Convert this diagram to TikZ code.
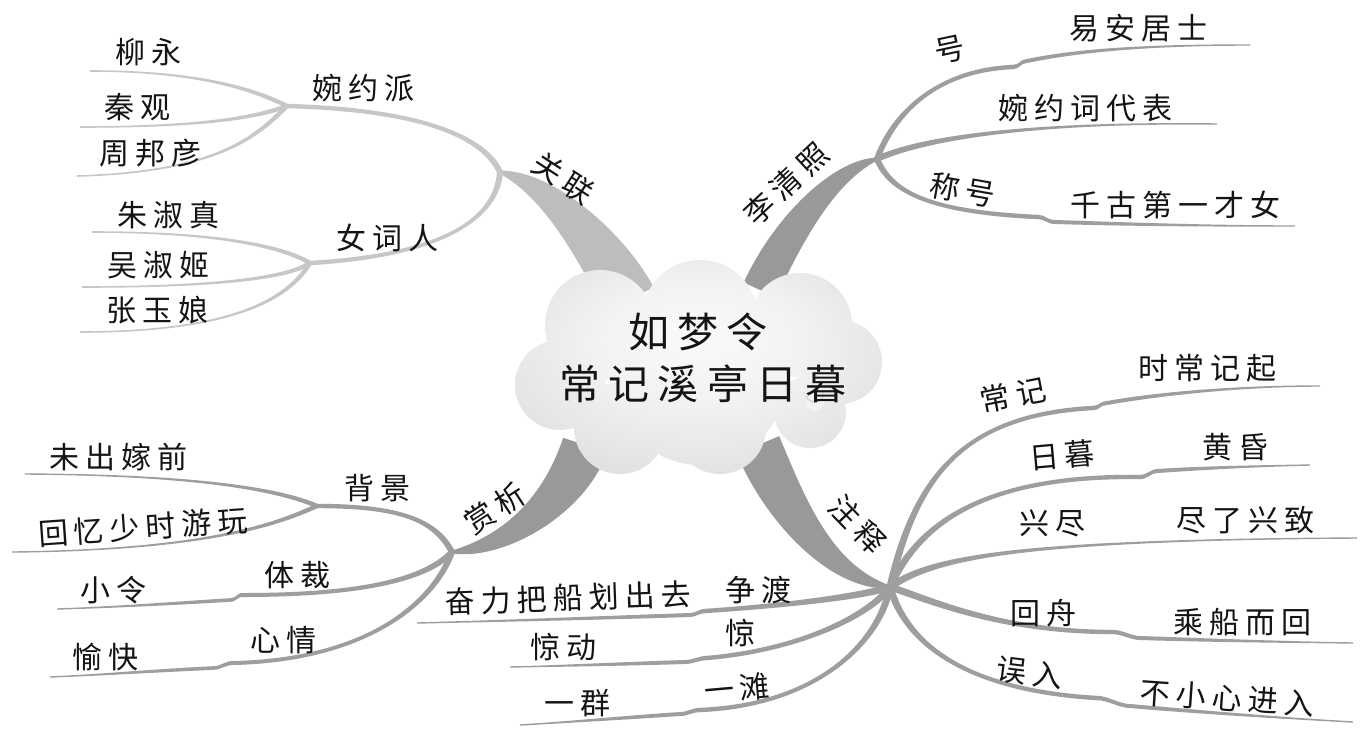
\documentclass[tikz,border=0pt]{standalone}
\usepackage{fontspec}
\newfontfamily\cjk[LetterSpace=20]{Noto Sans CJK SC}
\usetikzlibrary{calc}
\definecolor{lightline}{gray}{0.78}
\definecolor{lightbr}{gray}{0.74}
\definecolor{darkline}{gray}{0.62}
\definecolor{mainbr}{gray}{0.60}
\definecolor{txt}{gray}{0.08}
\pgfdeclareradialshading{cloudsh}{\pgfpoint{0bp}{8bp}}{color(0bp)=(gray!4); color(14bp)=(gray!10); color(26bp)=(gray!20); color(38bp)=(gray!32); color(50bp)=(gray!42)}
% tapered curve segment: P0, C1, C2, P3, half width at start, half width at end, colour
\newcommand\tseg[7]{\fill[#7] ($#1!#5!90:#2$) .. controls ($#2!#5!-90:#1$) and ($#3!#6!90:#4$) .. ($#4!#6!-90:#3$) -- ($#4!#6!90:#3$) .. controls ($#3!#6!-90:#4$) and ($#2!#5!90:#1$) .. ($#1!#5!-90:#2$) -- cycle;}
% broad tapered branch: P0, C1, C2, P3, half width at P0/C1, at C2, at P3, colour
\newcommand\tbr[8]{\fill[#8] ($#1!#5!90:#2$) .. controls ($#2!#5!-90:#1$) and ($#3!#6!90:#4$) .. ($#4!#7!-90:#3$) -- ($#4!#7!90:#3$) .. controls ($#3!#6!-90:#4$) and ($#2!#5!90:#1$) .. ($#1!#5!-90:#2$) -- cycle;}
\begin{document}
\begin{tikzpicture}[x=1pt,y=-1pt,
  lbl/.style={font=\cjk\fontsize{30}{36}\selectfont, text=txt, inner sep=0pt},
  title/.style={font=\cjk\fontsize{41}{48}\selectfont, text=txt, inner sep=0pt}]
\useasboundingbox[fill=white] (0,0) rectangle (1362,729);

% hubs and ends
\coordinate (H1) at (500,172);
\coordinate (S1) at (287,106);
\coordinate (S2) at (310,263);
\coordinate (H2) at (877,159);
\coordinate (H3) at (452,552);
\coordinate (S3) at (317,506);
\coordinate (H4) at (890,587);
\coordinate (cA) at (630,300);
\coordinate (cB) at (760,290);
\coordinate (cC) at (585,445);
\coordinate (cD) at (758,445);
\coordinate (eLiu) at (90,71);
\coordinate (eQin) at (80,127);
\coordinate (eZhou) at (77,176);
\coordinate (eZhu) at (92,232);
\coordinate (eWu) at (82,287);
\coordinate (eZhang) at (80,332);
\coordinate (eHao) at (1250,45);
\coordinate (eWanyue) at (1217,124);
\coordinate (eChenghao) at (1295,226);
\coordinate (eWei) at (25,474);
\coordinate (eHui) at (12,552);
\coordinate (eXiaoling) at (57,609);
\coordinate (eYukuai) at (50,677);
\coordinate (eChangji) at (1320,386);
\coordinate (eRimu) at (1310,465);
\coordinate (eXingjin) at (1357,538);
\coordinate (eHuizhou) at (1353,643);
\coordinate (eWuru) at (1353,722);
\coordinate (eZhengdu) at (417,623);
\coordinate (eJing) at (510,667);
\coordinate (eYitan) at (520,725);

% ---- 关联 ----
\tbr{(cA)}{(600,245)}{(550,185)}{(H1)}{27pt}{15pt}{1.5pt}{lightbr}
\tseg{(H1)}{(485,140)}{(430,110)}{(S1)}{3pt}{2.2pt}{lightline}
\tseg{(S1)}{(255,90)}{(200,71)}{(eLiu)}{2.2pt}{0.8pt}{lightline}
\tseg{(S1)}{(255,118)}{(200,127)}{(eQin)}{2.2pt}{0.8pt}{lightline}
\tseg{(S1)}{(258,135)}{(220,172)}{(eZhou)}{2.2pt}{0.8pt}{lightline}
\tseg{(H1)}{(497,215)}{(450,255)}{(S2)}{3pt}{2.2pt}{lightline}
\tseg{(S2)}{(280,245)}{(210,232)}{(eZhu)}{2.2pt}{0.8pt}{lightline}
\tseg{(S2)}{(285,280)}{(200,287)}{(eWu)}{2.2pt}{0.8pt}{lightline}
\tseg{(S2)}{(288,300)}{(230,332)}{(eZhang)}{2.2pt}{0.8pt}{lightline}

% ---- 李清照 ----
\tbr{(cB)}{(790,225)}{(835,170)}{(H2)}{18pt}{11pt}{1.5pt}{mainbr}
\tseg{(H2)}{(895,110)}{(940,70)}{(1013,67)}{3pt}{2.2pt}{darkline}
\tseg{(1013,67)}{(1020,67)}{(1020,61)}{(1027,61)}{2.2pt}{2pt}{darkline}
\tseg{(1027,61)}{(1080,50)}{(1150,45)}{(eHao)}{2pt}{0.7pt}{darkline}
\tseg{(H2)}{(930,135)}{(1050,122)}{(eWanyue)}{3pt}{0.7pt}{darkline}
\tseg{(H2)}{(890,190)}{(925,212)}{(1038,217)}{3pt}{2.2pt}{darkline}
\tseg{(1038,217)}{(1045,217)}{(1047,222)}{(1055,222)}{2.2pt}{2pt}{darkline}
\tseg{(1055,222)}{(1120,224)}{(1200,226)}{(eChenghao)}{2pt}{0.7pt}{darkline}

% ---- 赏析 ----
\tbr{(cC)}{(565,505)}{(505,548)}{(H3)}{23pt}{13pt}{1.5pt}{mainbr}
\tseg{(H3)}{(435,520)}{(400,506)}{(S3)}{3pt}{2.2pt}{darkline}
\tseg{(S3)}{(280,490)}{(200,475)}{(eWei)}{2.2pt}{0.7pt}{darkline}
\tseg{(S3)}{(285,520)}{(220,550)}{(eHui)}{2.2pt}{0.7pt}{darkline}
\tseg{(H3)}{(425,580)}{(360,595)}{(243,595)}{3pt}{2pt}{darkline}
\tseg{(243,595)}{(236,595)}{(237,600)}{(230,600)}{2pt}{1.8pt}{darkline}
\tseg{(230,600)}{(180,603)}{(120,607)}{(eXiaoling)}{1.8pt}{0.7pt}{darkline}
\tseg{(H3)}{(435,600)}{(370,660)}{(233,663)}{3pt}{2pt}{darkline}
\tseg{(233,663)}{(225,663)}{(221,668)}{(213,668)}{2pt}{1.8pt}{darkline}
\tseg{(213,668)}{(150,671)}{(100,675)}{(eYukuai)}{1.8pt}{0.7pt}{darkline}

% ---- 注释 ----
\tbr{(cD)}{(785,510)}{(830,578)}{(H4)}{23pt}{13pt}{1.5pt}{mainbr}
\tseg{(H4)}{(915,480)}{(960,415)}{(1093,408)}{3.5pt}{2.2pt}{darkline}
\tseg{(1093,408)}{(1100,408)}{(1100,403)}{(1107,403)}{2.2pt}{2pt}{darkline}
\tseg{(1107,403)}{(1170,392)}{(1250,386)}{(eChangji)}{2pt}{0.7pt}{darkline}
\tseg{(H4)}{(920,520)}{(990,475)}{(1140,477)}{3.5pt}{2.2pt}{darkline}
\tseg{(1140,477)}{(1148,477)}{(1150,471)}{(1158,471)}{2.2pt}{2pt}{darkline}
\tseg{(1158,471)}{(1200,468)}{(1260,466)}{(eRimu)}{2pt}{0.7pt}{darkline}
\tseg{(H4)}{(930,560)}{(1000,540)}{(eXingjin)}{3.5pt}{0.7pt}{darkline}
\tseg{(H4)}{(930,600)}{(1000,632)}{(1113,632)}{3.5pt}{2.2pt}{darkline}
\tseg{(1113,632)}{(1122,632)}{(1131,638)}{(1140,638)}{2.2pt}{2pt}{darkline}
\tseg{(1140,638)}{(1200,640)}{(1280,642)}{(eHuizhou)}{2pt}{0.7pt}{darkline}
\tseg{(H4)}{(905,640)}{(960,690)}{(1097,698)}{3.5pt}{2.2pt}{darkline}
\tseg{(1097,698)}{(1108,698)}{(1119,706)}{(1130,706)}{2.2pt}{2pt}{darkline}
\tseg{(1130,706)}{(1200,712)}{(1280,718)}{(eWuru)}{2pt}{0.7pt}{darkline}
\tseg{(H4)}{(860,597)}{(780,606)}{(705,611)}{3.5pt}{2.2pt}{darkline}
\tseg{(705,611)}{(699,611)}{(696,615)}{(690,615)}{2.2pt}{2pt}{darkline}
\tseg{(690,615)}{(600,618)}{(500,621)}{(eZhengdu)}{2pt}{0.7pt}{darkline}
\tseg{(H4)}{(870,615)}{(800,650)}{(707,658)}{3.5pt}{2.2pt}{darkline}
\tseg{(707,658)}{(699,658)}{(693,662)}{(685,662)}{2.2pt}{2pt}{darkline}
\tseg{(685,662)}{(620,664)}{(560,666)}{(eJing)}{2pt}{0.7pt}{darkline}
\tseg{(H4)}{(880,640)}{(820,705)}{(700,710)}{3.5pt}{2.2pt}{darkline}
\tseg{(700,710)}{(692,710)}{(688,714)}{(680,714)}{2.2pt}{2pt}{darkline}
\tseg{(680,714)}{(620,718)}{(570,722)}{(eYitan)}{2pt}{0.7pt}{darkline}

% ---- cloud ----
\shade[shading=cloudsh]
  (600,325) circle[radius=55pt]
  (700,318) circle[radius=58pt]
  (800,325) circle[radius=52pt]
  (840,362) circle[radius=42pt]
  (560,385) circle[radius=45pt]
  (620,428) circle[radius=46pt]
  (720,428) circle[radius=46pt]
  (810,412) circle[radius=36pt]
  (700,380) circle[radius=85pt];
\fill[gray!8, opacity=0.8] (815,402) circle[radius=9pt];
\draw[gray!28, line width=2pt] (806,396) arc[start angle=200, end angle=380, radius=9pt];

% ---- text ----
\node[title] (t1) at (698,332) {如梦令};
\node[title] (t2) at (703,384) {常记溪亭日暮};

\node[lbl] (n1) at (148,52) {柳永};
\node[lbl] (n2) at (137,107) {秦观};
\node[lbl] (n3) at (150,153) {周邦彦};
\node[lbl] (n4) at (363,88) {婉约派};
\node[lbl] (n5) at (168,215) {朱淑真};
\node[lbl] (n6) at (158,265) {吴淑姬};
\node[lbl] (n7) at (157,310) {张玉娘};
\node[lbl] (n8) at (387,238) {女词人};
\node[lbl, rotate=-33] (n9) at (563,178) {关联};

\node[lbl, rotate=43] (n10) at (786,184) {李清照};
\node[lbl, rotate=12] (n11) at (950,50) {号};
\node[lbl] (n12) at (1138,28) {易安居士};
\node[lbl] (n13) at (1085,108) {婉约词代表};
\node[lbl, rotate=-10] (n14) at (963,190) {称号};
\node[lbl] (n15) at (1175,205) {千古第一才女};

\node[lbl, rotate=33] (n16) at (495,508) {赏析};
\node[lbl] (n17) at (377,488) {背景};
\node[lbl] (n18) at (118,457) {未出嫁前};
\node[lbl, rotate=4] (n19) at (143,527) {回忆少时游玩};
\node[lbl] (n20) at (297,575) {体裁};
\node[lbl] (n21) at (113,590) {小令};
\node[lbl] (n22) at (283,640) {心情};
\node[lbl] (n23) at (105,657) {愉快};

\node[lbl, rotate=-46] (n24) at (858,524) {注释};
\node[lbl, rotate=2] (n25) at (568,598) {奋力把船划出去};
\node[lbl] (n26) at (758,590) {争渡};
\node[lbl] (n27) at (563,647) {惊动};
\node[lbl] (n28) at (740,633) {惊};
\node[lbl] (n29) at (577,703) {一群};
\node[lbl, rotate=5] (n30) at (737,688) {一滩};
\node[lbl, rotate=11] (n31) at (1013,395) {常记};
\node[lbl] (n32) at (1207,368) {时常记起};
\node[lbl, rotate=5] (n33) at (1062,455) {日暮};
\node[lbl] (n34) at (1235,447) {黄昏};
\node[lbl] (n35) at (1052,523) {兴尽};
\node[lbl] (n36) at (1245,520) {尽了兴致};
\node[lbl] (n37) at (1043,613) {回舟};
\node[lbl] (n38) at (1242,622) {乘船而回};
\node[lbl, rotate=-7] (n39) at (1030,673) {误入};
\node[lbl, rotate=-4] (n40) at (1227,698) {不小心进入};
\end{tikzpicture}
\end{document}
